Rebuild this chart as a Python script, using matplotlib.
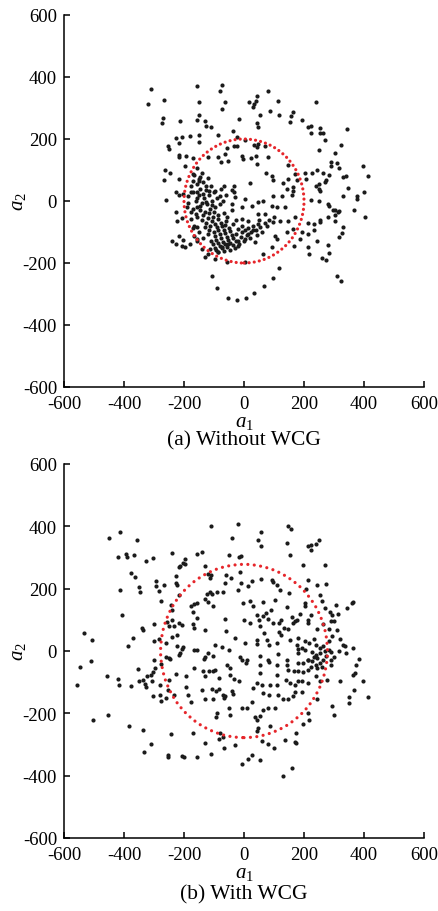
import matplotlib
matplotlib.use('Agg')
import matplotlib.pyplot as plt
from matplotlib.patches import Circle

plt.rcParams['font.family'] = 'Liberation Serif'
plt.rcParams['mathtext.fontset'] = 'custom'
plt.rcParams['mathtext.rm'] = 'Liberation Serif'
plt.rcParams['mathtext.it'] = 'Liberation Serif:italic'
plt.rcParams['axes.unicode_minus'] = False

# (a) samples without WCG
pts_without = [
    (-309, 362), (-319, 313), (-265, 326), (-269, 268), (-272, 252), (-212, 258), (-155, 371),
    (-151, 320), (-158, 262), (-151, 278), (-225, 204), (-205, 207), (-181, 210), (-218, 187),
    (-252, 178), (-249, 168), (-151, 213), (-151, 190), (-218, 149), (-215, 142), (-192, 145),
    (-171, 139), (-198, 113), (-262, 100), (-245, 90), (-265, 68), (-218, 71), (-171, 87),
    (-155, 107), (-151, 65), (-171, 65), (-225, 29),
    (-74, 375), (-81, 355), (-64, 320), (-74, 297), (-131, 258), (-128, 242), (-111, 239),
    (-87, 213), (-37, 226), (-17, 265), (17, 320), (34, 313), (30, 303), (44, 339), (40, 323),
    (81, 355), (114, 323), (87, 291), (54, 278), (118, 278), (165, 287), (158, 275), (155, 255),
    (192, 262), (215, 239), (44, 252), (47, 239), (-24, 207), (3, 197), (-34, 178), (-24, 178),
    (-57, 171), (-64, 152), (34, 181), (47, 184), (71, 178), (44, 174), (-7, 145), (-3, 136),
    (24, 139), (40, 145), (44, 120), (81, 142), (-121, 142), (-87, 142), (-77, 126), (-54, 129),
    (148, 116), (171, 87), (74, 90), (94, 81), (97, 68), (131, 58), (148, 71), (178, 68),
    (165, 45), (144, 39), (20, 58), (-34, 48), (-67, 48), (-40, 36),
    (239, 320), (222, 242), (255, 236), (225, 220), (255, 220), (262, 220), (343, 233),
    (269, 197), (323, 181), (249, 165), (302, 155), (289, 126), (309, 123), (289, 113),
    (316, 107), (396, 113), (413, 81), (242, 100), (228, 90), (262, 90), (282, 84), (205, 90),
    (208, 71), (272, 68), (269, 61), (249, 55), (239, 48), (329, 78), (339, 81), (346, 42),
    (249, 39), (255, 32), (400, 29),
    (249, 0), (225, 3), (329, 16), (376, 16), (376, 6), (279, -10), (282, -16), (296, -29),
    (302, -29), (316, -32), (312, -36), (366, -29), (302, -45), (279, -52), (403, -52),
    (252, -61), (255, -68), (302, -65), (215, -71), (232, -74), (235, -94), (329, -84),
    (326, -103), (316, -116), (212, -107), (245, -129), (279, -142), (212, -149), (282, -168),
    (218, -171), (259, -184), (272, -190), (309, -242), (323, -258),
    (-259, 3), (-215, 19), (-202, 23), (-175, 29), (-188, 16), (-158, 10), (-225, -36),
    (-222, -65), (-205, -55), (-175, -36), (-171, -26), (-158, -19), (-161, -42), (-175, -58),
    (-171, -87), (-158, -84), (-215, -113), (-239, -129), (-225, -139), (-202, -126),
    (-208, -145), (-195, -149), (-181, -139), (-165, -113), (-158, -123),
    (-108, -242), (-91, -281), (-54, -313), (-24, -320), (7, -313), (34, -297), (67, -275),
    (97, -249), (118, -216), (3, -197), (-57, -197), (-97, -187), (-131, -181), (-121, -171),
    (-155, 29), (-97, 32), (-34, 29), (-30, 13), (-81, 16), (3, 6), (27, -16), (47, -3),
    (64, 0), (97, 16), (128, 16), (161, 19), (165, 32), (94, -16), (111, -19), (138, -19),
    (-7, -19), (-40, -10), (47, -42), (71, -42), (121, -65), (148, -65), (171, -52), (97, -68),
    (77, -81), (47, -74), (30, -81), (13, -65), (-7, -58), (104, -113), (111, -123),
    (144, -100), (165, -90), (195, -100), (188, -123), (168, -145), (94, -149), (64, -171),
    (37, -132), (3, -123), (13, -107), (-20, -145), (-54, -139), (-74, -149), (-87, -165),
    (-114, -155), (-141, -155), (-158, -129),
    # dense band left of centre
    (-165, 85), (-150, 70), (-140, 90), (-158, 55), (-135, 60), (-120, 75), (-145, 40),
    (-128, 35), (-110, 50), (-150, 20), (-132, 10), (-115, 20), (-100, 30), (-140, -5),
    (-122, -10), (-105, 0), (-90, 10), (-148, -30), (-130, -35), (-112, -25), (-95, -20),
    (-80, -10), (-140, -60), (-120, -55), (-102, -50), (-85, -45), (-68, -40), (-130, -85),
    (-112, -80), (-95, -75), (-78, -70), (-60, -65), (-120, -105), (-100, -100), (-85, -95),
    (-68, -92), (-50, -88), (-110, -130), (-92, -125), (-75, -120), (-58, -115), (-40, -110),
    (-98, -150), (-80, -145), (-62, -140), (-45, -135), (-28, -130), (-85, -165), (-65, -160),
    (-48, -158), (-30, -150), (-15, -140), (0, -130), (-10, -115), (10, -110), (25, -100),
    (20, -120), (40, -95), (55, -85), (45, -110), (70, -70), (85, -60), (60, -100), (100, -50),
    (-20, -90), (-35, -75), (-5, -80), (-55, -50), (-40, -30), (-70, 0), (-60, 20), (-75, 40),
    (-25, -60), (-160, 0), (-170, 30), (-155, -50), (-165, -80),
    (-145, 78), (-128, 48), (-118, 32), (-138, 22), (-125, -2), (-108, -12), (-135, -45),
    (-118, -40), (-100, -35), (-88, -58), (-125, -70), (-106, -65), (-90, -85), (-72, -82),
    (-115, -92), (-95, -112), (-80, -105), (-62, -102), (-104, -138), (-86, -135), (-70, -132),
    (-52, -125), (-35, -120), (-92, -158), (-72, -152), (-55, -148), (-38, -142), (-20, -128),
    (-8, -100), (5, -95), (15, -88), (-45, -98), (-62, -78), (-28, -105), (30, -92), (50, -60),
    (-145, -15), (-150, -100), (-135, -120), (-178, 50), (-185, -5), (-190, -20),
]

# (b) samples with WCG
pts_with = [
    (-450, 362), (-413, 381), (-356, 355), (-420, 301), (-393, 310), (-390, 301), (-366, 307),
    (-326, 288), (-302, 298), (-239, 314), (-376, 250), (-363, 237), (-292, 224), (-292, 208),
    (-265, 211), (-349, 205), (-346, 189), (-413, 195), (-282, 192), (-276, 160), (-228, 218),
    (-225, 240), (-222, 211), (-215, 269), (-202, 282), (-215, 179), (-242, 147), (-239, 131),
    (-407, 115), (-299, 86), (-255, 93), (-239, 99), (-249, 80), (-232, 80), (-218, 90),
    (-205, 83), (-339, 74), (-336, 67), (-534, 58), (-507, 35), (-370, 42), (-386, 16),
    (-299, 32), (-282, 38), (-239, 45), (-222, 51), (-259, 26), (-222, 16), (-205, 6),
    (-215, -13), (-511, -32), (-299, -29), (-259, -19), (-245, -26),
    (-548, -51), (-558, -109), (-457, -80), (-420, -90), (-417, -109), (-376, -112),
    (-353, -58), (-349, -96), (-336, -93), (-329, -106), (-326, -115), (-323, -80), (-309, -77),
    (-306, -96), (-302, -67), (-296, -54), (-276, -42), (-279, -109), (-302, -144),
    (-279, -141), (-276, -160), (-259, -150), (-252, -125), (-249, -93), (-228, -74),
    (-232, -141), (-504, -221), (-454, -205), (-383, -240), (-336, -253), (-309, -298),
    (-333, -323), (-242, -266), (-252, -333), (-252, -339), (-208, -336), (-249, -22),
    (-111, 400), (-20, 406), (-40, 362), (57, 381), (47, 355), (57, 336), (148, 400), (158, 390),
    (144, 346), (155, 307), (-158, 310), (-141, 317), (-50, 307), (-17, 301), (-10, 304),
    (-195, 294), (-212, 272), (-195, 278), (-131, 272), (-111, 243), (-121, 246), (-114, 234),
    (-60, 243), (-44, 234), (-13, 253), (-10, 218), (27, 224), (-64, 218), (57, 230), (94, 227),
    (97, 221), (121, 195), (151, 186), (111, 211), (13, 208), (-20, 195), (-71, 189),
    (-91, 189), (-114, 189), (-108, 182), (-124, 182), (-131, 166), (-158, 154), (-175, 144),
    (-165, 150), (-121, 157), (-104, 144), (-3, 154), (20, 160), (30, 144), (64, 157),
    (104, 163), (144, 141), (-171, 125), (-158, 106), (-171, 86), (-165, 74), (-131, 67),
    (-64, 102), (0, 99), (44, 115), (50, 99), (64, 112), (74, 122), (91, 131), (81, 102),
    (97, 90), (118, 90), (124, 99), (134, 74), (161, 109), (165, 90), (20, 90), (54, 80),
    (67, 58), (118, 61), (124, 51), (148, 70), (178, 99), (-60, 64), (-30, 42), (3, 26),
    (44, 35), (44, 22), (77, 35), (84, 19), (111, 26), (155, 35), (178, 19), (-97, 19),
    (-74, 13), (-50, 3), (-165, 3), (-155, 3), (-202, 13), (-212, -6), (-131, -19), (-121, -6),
    (-104, -16), (-13, -19), (10, -29), (54, -16), (81, -29), (114, -10), (144, -29), (181, -6),
    (249, 355), (239, 342), (222, 339), (212, 336), (222, 323), (198, 275), (269, 275),
    (215, 227), (272, 214), (245, 211), (208, 198), (252, 179), (259, 160), (202, 154),
    (202, 144), (306, 147), (360, 154), (363, 157), (343, 138), (269, 138), (286, 125),
    (292, 115), (312, 118), (225, 115), (188, 118), (215, 99), (212, 90), (171, 96), (289, 96),
    (299, 96), (262, 86), (245, 70), (282, 70), (309, 67), (292, 48), (282, 32), (319, 38),
    (181, 42), (202, 32), (218, 26), (239, 19), (232, 38), (329, 19), (336, 16), (363, 10),
    (192, 10), (205, 3), (252, 10), (262, 16), (228, -3), (239, -13), (255, -6), (269, 0),
    (282, 3), (289, -3), (316, 0), (339, -6), (245, -22), (262, -29), (215, -29), (383, -26),
    (181, 6), (232, -20), (275, -15), (300, -20), (260, -50), (225, -50), (290, -30),
    (181, -38), (198, -38), (212, -29), (228, -32), (239, -45), (255, -38), (289, -45),
    (373, -45), (370, -70), (363, -77), (181, -64), (198, -67), (212, -61), (245, -54),
    (239, -80), (252, -96), (276, -93), (319, -96), (396, -96), (181, -96), (192, -96),
    (212, -102), (171, -109), (171, -131), (192, -131), (366, -125), (413, -147), (349, -147),
    (349, -166), (242, -154), (292, -176), (299, -205), (215, -198), (218, -221), (198, -234),
    (175, -262), (175, -294),
    (-134, -26), (-168, -54), (-192, -80), (-138, -64), (-131, -80), (-118, -64), (-104, -64),
    (-97, -61), (-84, -86), (-57, -45), (-47, -54), (-47, -77), (-34, -90), (-17, -96),
    (-7, -29), (7, -38), (54, -45), (84, -35), (111, -45), (144, -45), (148, -61), (54, -70),
    (111, -77), (168, -64), (141, -93), (155, -102), (87, -109), (111, -109), (44, -102),
    (60, -109), (30, -118), (64, -134), (84, -141), (114, -141), (131, -154), (148, -154),
    (165, -144), (-192, -115), (-188, -141), (-178, -163), (-141, -125), (-108, -122),
    (-94, -128), (-84, -122), (-71, -141), (-64, -144), (-40, -128), (-37, -138), (-67, -150),
    (-131, -154), (-104, -154), (27, -163), (-50, -182), (-7, -182), (10, -182), (-91, -198),
    (-47, -205), (-94, -211), (37, -211), (54, -208), (44, -221), (64, -189), (81, -182),
    (104, -182), (47, -246), (44, -256), (87, -240), (138, -285), (171, -291), (60, -288),
    (81, -298), (101, -310), (-171, -262), (-131, -294), (-81, -262), (-71, -275), (-84, -282),
    (-67, -310), (-30, -301), (27, -333), (13, -346), (-7, -362), (54, -349), (-111, -330),
    (-155, -339), (-200, -341), (161, -374), (131, -400),
]

radius_without = 200
radius_with = 278

axis_ticks = [-600, -400, -200, 0, 200, 400, 600]


def draw_panel(ax, pts, radius, dot_gap):
    """Scatter of (a1, a2) samples with the dotted reference circle"""
    a1 = [p[0] for p in pts]
    a2 = [p[1] for p in pts]
    ax.scatter(a1, a2, s=9, c='#1b1b1b', linewidths=0, zorder=2)

    ring = Circle((0, 0), radius, fill=False, edgecolor='#e6262b', linewidth=2.3,
                  linestyle=(0, (0.01, dot_gap)), capstyle='round', zorder=3)
    ax.add_patch(ring)

    ax.set_xlim(-600, 600)
    ax.set_ylim(-600, 600)
    ax.set_xticks(axis_ticks)
    ax.set_yticks(axis_ticks)
    for side in ['top', 'right']:
        ax.spines[side].set_visible(False)
    for side in ['left', 'bottom']:
        ax.spines[side].set_linewidth(1.1)
    ax.tick_params(direction='in', length=4, width=1.1, labelsize=13.5)
    ax.tick_params(axis='x', pad=6)
    ax.tick_params(axis='y', pad=5)
    ax.set_xlabel('$a_1$', fontsize=15, labelpad=0)
    ax.set_ylabel('$a_2$', fontsize=15, labelpad=-4)


fig = plt.figure(figsize=(4.39, 9.12), dpi=100)
ax_a = fig.add_axes([64 / 439, 1 - 388 / 912, 360 / 439, 372 / 912])
ax_b = fig.add_axes([64 / 439, 1 - 839 / 912, 360 / 439, 374 / 912])

draw_panel(ax_a, pts_without, radius_without, 1.6)
draw_panel(ax_b, pts_with, radius_with, 2.0)

fig.text(244 / 439, 1 - 441 / 912, '(a) Without WCG', ha='center', va='center', fontsize=15.5)
fig.text(244 / 439, 1 - 895 / 912, '(b) With WCG', ha='center', va='center', fontsize=15.5)

fig.savefig('out.png', dpi=100)
plt.close('all')
